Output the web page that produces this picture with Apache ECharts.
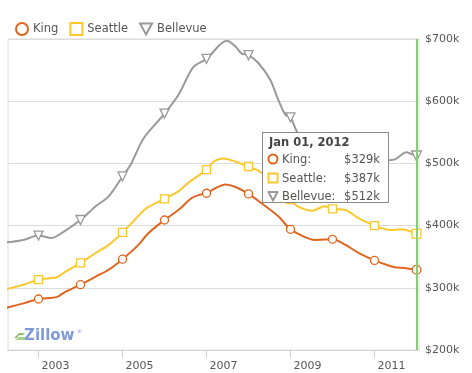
<!DOCTYPE html>
<html>
<head>
<meta charset="utf-8">
<script src="https://cdn.jsdelivr.net/npm/echarts@6/dist/echarts.min.js"></script>
<style>
html,body{margin:0;padding:0;background:#fff;}
#chart{width:472px;height:373px;}
</style>
</head>
<body>
<div id="chart"></div>
<script>
// ---- data (values in $k, x in decimal years; markers at whole years) ----
const kingYears   = [2002.24,2002.64,2003,2003.43,2003.6,2004,2004.36,2004.67,2005,2005.38,2005.62,2006,2006.33,2006.64,2006.81,2007,2007.21,2007.45,2007.69,2008,2008.31,2008.71,2009,2009.33,2009.57,2010,2010.31,2010.62,2011,2011.48,2011.71,2012];
const kingValues  = [268,275,282,285,292,305,318,329,346,369,388,409,425,444,449,452,460,466,462,451,436,415,394,382,377,378,369,356,344,333,332,329];

const seattleYears  = [2002.24,2002.64,2003,2003.43,2003.6,2004,2004.36,2004.67,2005,2005.26,2005.57,2006,2006.33,2006.57,2007,2007.17,2007.4,2007.69,2008,2008.24,2008.5,2008.75,2009,2009.17,2009.52,2009.81,2010,2010.31,2010.62,2011,2011.38,2011.62,2012];
const seattleValues = [298,305,313,317,324,340,356,369,389,407,428,443,455,469,490,503,508,503,495,488,475,458,442,431,424,431,427,425,412,400,393,394,387];

const bellevueYears  = [2002.24,2002.64,2003,2003.31,2003.55,2004,2004.36,2004.67,2005,2005.21,2005.5,2006,2006.33,2006.69,2007,2007.48,2007.69,2007.83,2008,2008.24,2008.52,2008.71,2008.88,2009,2009.17,2009.4,2009.65,2010,2010.4,2010.75,2011,2011.33,2011.5,2011.76,2011.88,2012];
const bellevueValues = [373,377,384,380,388,409,431,447,479,500,540,580,610,655,668,697,688,677,674,661,634,602,578,574,549,533,530,541,526,510,504,505,507,518,515,512];

const seriesNames = ['King','Seattle','Bellevue'];
const seriesColors = ['#e0651f','#fcc82e','#999999'];
const tickYears = [2003,2005,2007,2009,2011];
const months = ['Jan','Feb','Mar','Apr','May','Jun','Jul','Aug','Sep','Oct','Nov','Dec'];

function pairs(xs, ys){ return xs.map((x,i)=>[x, ys[i]]); }

const chart = echarts.init(document.getElementById('chart'), null, {renderer:'canvas'});
const FONT = '"DejaVu Sans", Verdana, sans-serif';
const invTri = 'path://M0,0 L10,0 L5,9 Z';

function mkSeries(idx, xs, ys, sym, size, rotate){
  return {
    name: seriesNames[idx], type:'line', smooth:0.3,
    data: pairs(xs, ys),
    showAllSymbol: true,
    symbol: function(v){ return Number.isInteger(v[0]) ? sym : 'none'; },
    symbolSize: size, symbolRotate: rotate || 0,
    lineStyle:{color: seriesColors[idx], width:2},
    itemStyle:{color:'#fff', borderColor: seriesColors[idx], borderWidth:1.3},
    emphasis:{disabled:true},
    z: 3 - idx
  };
}

function iconSvg(i){
  const c = seriesColors[i];
  if(i===0) return '<svg width="12" height="12" style="position:absolute;left:2px;top:2px"><circle cx="6" cy="6" r="4.5" fill="none" stroke="'+c+'" stroke-width="2"/></svg>';
  if(i===1) return '<svg width="12" height="12" style="position:absolute;left:2px;top:2px"><rect x="1.5" y="1.5" width="9" height="9" fill="none" stroke="'+c+'" stroke-width="2"/></svg>';
  return '<svg width="12" height="12" style="position:absolute;left:2px;top:2px"><path d="M1.5,2 L10.5,2 L6,10.5 Z" fill="none" stroke="'+c+'" stroke-width="2" stroke-linejoin="round"/></svg>';
}

const option = {
  animation:false,
  backgroundColor:'#fff',
  textStyle:{fontFamily:FONT},
  legend:{
    left:10, top:17, itemWidth:12, itemHeight:12, itemGap:11,
    textStyle:{fontSize:11.5, color:'#555', fontFamily:FONT, padding:[0,0,0,0]},
    selectedMode:false,
    data:[
      {name:'King', icon:'circle', itemStyle:{color:'#fff', borderColor:seriesColors[0], borderWidth:2}},
      {name:'Seattle', icon:'rect', itemStyle:{color:'#fff', borderColor:seriesColors[1], borderWidth:2}},
      {name:'Bellevue', icon:invTri, itemStyle:{color:'#fff', borderColor:seriesColors[2], borderWidth:2}}
    ]
  },
  grid:{left:8, right:53, top:39, bottom:23, show:true, borderColor:'#dcdcdc', borderWidth:1, containLabel:false},
  xAxis:{
    type:'value', min:2002.274, max:2012.06,
    axisLine:{show:true, lineStyle:{color:'#d4d4d4'}},
    axisTick:{show:true, customValues:tickYears, length:8, lineStyle:{color:'#cfcfcf'}},
    axisLabel:{customValues:tickYears, align:'left', padding:[0,0,0,3], margin:11, fontSize:11, color:'#555', fontFamily:FONT,
      formatter:function(v){ return String(Math.round(v)); }},
    splitLine:{show:false}
  },
  yAxis:{
    type:'value', position:'right', min:200, max:700, interval:100,
    axisLine:{show:false}, axisTick:{show:false},
    axisLabel:{margin:6, fontSize:11, color:'#555', fontFamily:FONT, formatter:function(v){return '$'+v+'k';}},
    splitLine:{lineStyle:{color:'#dcdcdc', width:1}}
  },
  tooltip:{
    trigger:'axis', triggerOn:'none', alwaysShowContent:true, transitionDuration:0,
    position:[262,132], padding:0, borderWidth:1, borderColor:'#8a8a8a', borderRadius:0,
    backgroundColor:'rgba(255,255,255,0.96)',
    extraCssText:'box-shadow:none;',
    axisPointer:{type:'line', lineStyle:{color:'#7ed36b', width:2, type:'solid'}, label:{show:false}},
    formatter:function(params){
      const x = params[0].value[0];
      const yr = Math.floor(x);
      const mo = months[Math.round((x-yr)*12)%12];
      let h = '<div style="position:relative;width:125px;height:69px;font-family:'+FONT.replace(/"/g,"'")+';color:#555;font-size:11.5px;">';
      h += '<div style="position:absolute;left:6px;top:1px;line-height:16px;font-weight:bold;font-size:11.5px;color:#444;">'+mo+' 01, '+yr+'</div>';
      const tops=[18,36.5,55];
      params.forEach(function(p,i){
        h += '<div style="position:absolute;left:2px;top:'+tops[i]+'px;width:121px;height:16px;line-height:16px;">'+iconSvg(p.seriesIndex)+
             '<span style="position:absolute;left:17px;">'+p.seriesName+':</span>'+
             '<span style="position:absolute;right:6px;">$'+p.value[1]+'k</span></div>';
      });
      h += '</div>';
      return h;
    }
  },
  graphic:[
    {type:'polygon', left:14, top:333, z:10, silent:true,
      shape:{points:[[0,7],[5,2],[11,2],[9,4],[5,4],[3,7]]}, style:{fill:'#8cc06a'}},
    {type:'polygon', left:15, top:337, z:10, silent:true,
      shape:{points:[[0,3],[9,3],[11,0],[4,0]]}, style:{fill:'#a9d08a'}},
    {type:'text', left:24, top:329, z:10, silent:true,
      style:{text:'Zillow', fontSize:15, fontWeight:'bold', fill:'#7f9bd8', fontFamily:FONT}},
    {type:'text', left:77, top:329, z:10, silent:true,
      style:{text:'®', fontSize:5, fill:'#7f9bd8', fontFamily:FONT}}
  ],
  series:[
    mkSeries(0, kingYears, kingValues, 'circle', 8),
    mkSeries(1, seattleYears, seattleValues, 'rect', 8),
    mkSeries(2, bellevueYears, bellevueValues, 'triangle', 9, 180)
  ]
};
chart.setOption(option);
chart.dispatchAction({type:'showTip', seriesIndex:0, dataIndex:kingYears.length-1});
</script>
</body>
</html>
